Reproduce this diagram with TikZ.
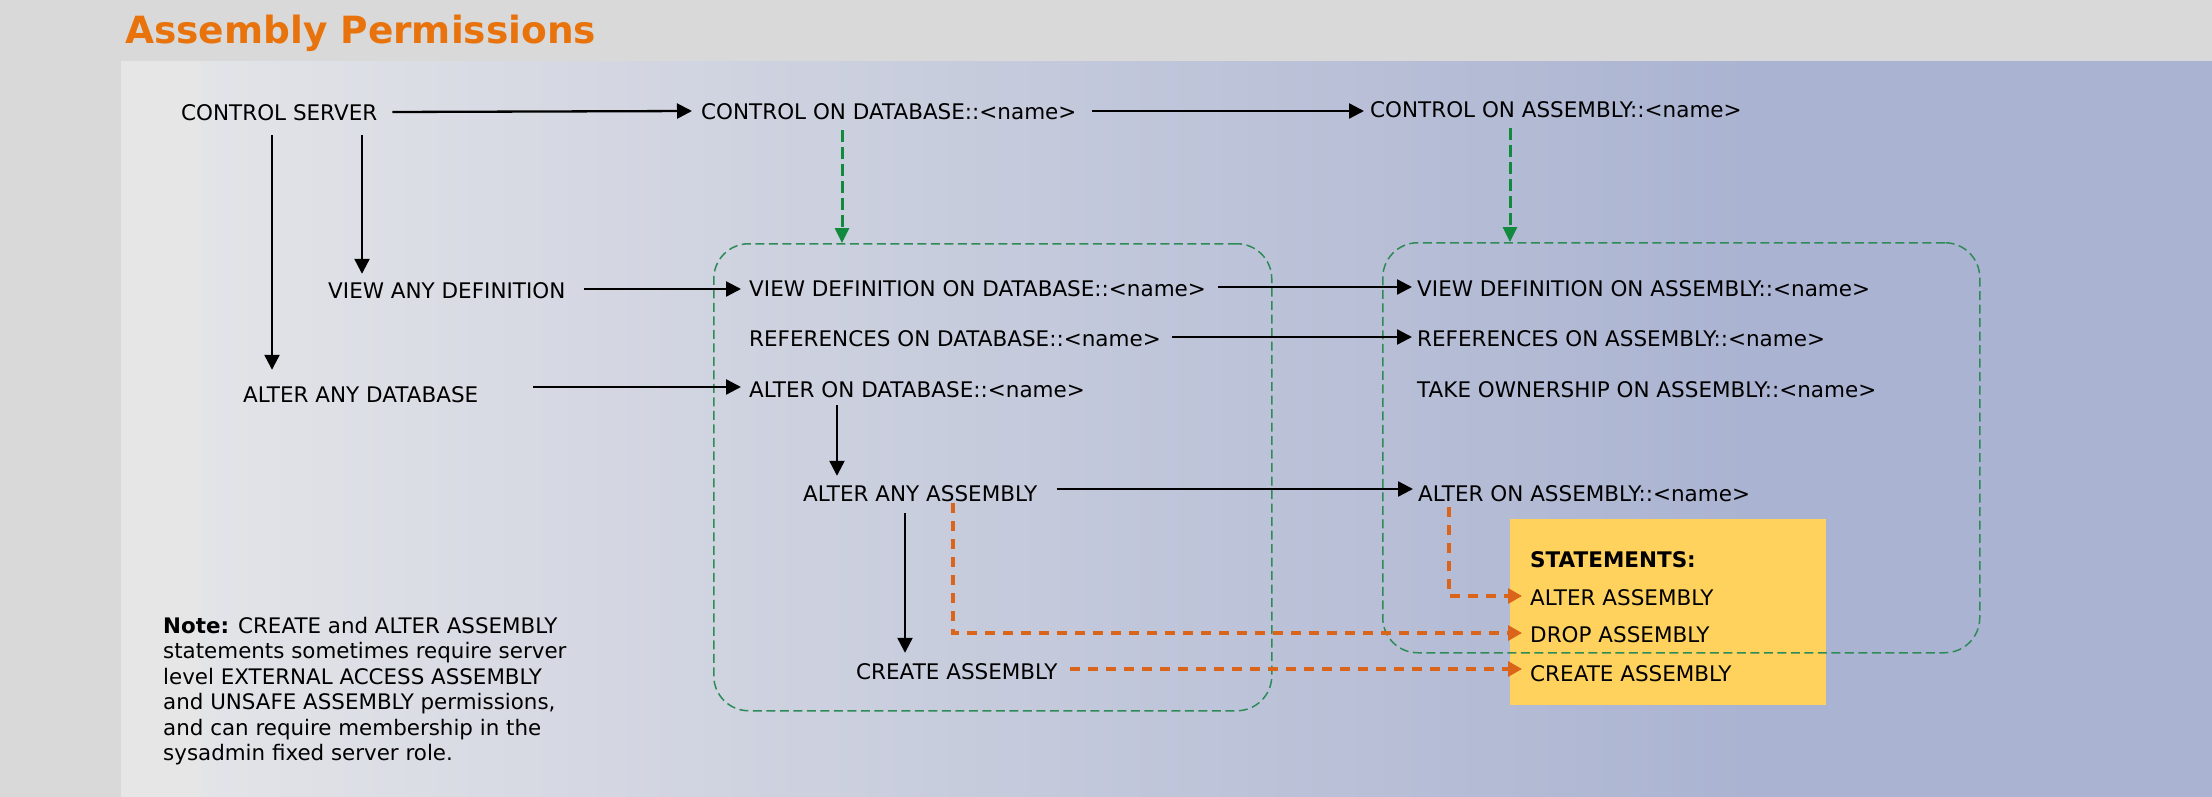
\documentclass[tikz,border=0pt]{standalone}
\usepackage{fontspec}
\setmainfont{DejaVu Sans}
\usetikzlibrary{arrows.meta,calc}

\definecolor{outergray}{HTML}{D9D9D9}
\definecolor{panelL}{HTML}{E6E6E6}
\definecolor{panelM}{HTML}{E3E4E8}
\definecolor{panelR}{HTML}{AAB3D1}
\definecolor{titleorange}{HTML}{E8730C}
\definecolor{flowgreen}{HTML}{128A3E}
\definecolor{scopegreen}{HTML}{2E8B57}
\definecolor{stmtorange}{HTML}{D9641A}
\definecolor{stmtyellow}{HTML}{FFD25E}

\begin{document}
\begin{tikzpicture}[x=1pt,y=-1pt,
  perm/.style={anchor=base west, inner sep=0pt, text height=18pt, text depth=0pt,
               font=\fontsize{21.5pt}{25pt}\selectfont},
  grant/.style={draw=black, line width=2.3pt, -{Triangle[length=15pt,width=15pt]}},
  implies/.style={draw=flowgreen, line width=3pt, dash pattern=on 12pt off 5pt,
                  -{Triangle[length=15pt,width=14pt]}},
  scopebox/.style={draw=scopegreen, line width=1.5pt, dash pattern=on 9pt off 4.5pt,
                   rounded corners=35pt, inner sep=0pt, anchor=north west},
  stmt/.style={draw=stmtorange, line width=3.3pt, dash pattern=on 10pt off 8pt,
               -{Triangle[length=14pt,width=15pt]}}
]
\useasboundingbox (0,0) rectangle (2212,797);

% shaded panel, then the page band around it
\fill[panelR] (121,55) rectangle (2212,797);
\shade[left color=panelM, right color=panelR] (200,55) rectangle (1751,797);
\fill[panelL] (121,55) rectangle (201,797);
\fill[outergray] (0,0) rectangle (2212,61);
\fill[outergray] (0,61) rectangle (121,797);

% heading
\node[anchor=base west, inner sep=0pt, text=titleorange,
      font=\fontsize{37.5pt}{40pt}\selectfont\bfseries] (title) at (125,44) {Assembly Permissions};

% statements panel
\node[fill=stmtyellow, minimum width=316pt, minimum height=186pt,
      anchor=north west, inner sep=0pt] (stbox) at (1510,519) {};

% database and assembly scopes
\node[scopebox, minimum width=558pt, minimum height=467pt] (dbscope) at (713,243) {};
\node[scopebox, minimum width=597pt, minimum height=410pt] (asscope) at (1382,242) {};

% permissions
\node[perm] (cs)  at (181,121) {CONTROL SERVER};
\node[perm] (cdb) at (701,120) {CONTROL ON DATABASE::<name>};
\node[perm] (cas) at (1370,118) {CONTROL ON ASSEMBLY::<name>};
\node[perm] (vad) at (328,298) {VIEW ANY DEFINITION};
\node[perm] (aad) at (243,402) {ALTER ANY DATABASE};
\node[perm] (vdd) at (749,296) {VIEW DEFINITION ON DATABASE::<name>};
\node[perm] (rdb) at (749,346) {REFERENCES ON DATABASE::<name>};
\node[perm] (adb) at (749,397) {ALTER ON DATABASE::<name>};
\node[perm] (aas) at (803,501) {ALTER ANY ASSEMBLY};
\node[perm] (crs) at (856,679) {CREATE ASSEMBLY};
\node[perm] (vda) at (1417,296) {VIEW DEFINITION ON ASSEMBLY::<name>};
\node[perm] (ras) at (1417,346) {REFERENCES ON ASSEMBLY::<name>};
\node[perm] (tas) at (1417,397) {TAKE OWNERSHIP ON ASSEMBLY::<name>};
\node[perm] (aoa) at (1418,501) {ALTER ON ASSEMBLY::<name>};

% statements
\node[perm, font=\fontsize{21.5pt}{25pt}\selectfont\bfseries] (sthead) at (1530,567) {STATEMENTS:};
\node[perm] (alter)  at (1530,605) {ALTER ASSEMBLY};
\node[perm] (drop)   at (1530,642) {DROP ASSEMBLY};
\node[perm] (create) at (1530,681) {CREATE ASSEMBLY};

% note
\node[anchor=north west, inner sep=0pt, align=left,
      font=\fontsize{21.4pt}{25.5pt}\selectfont] (note) at (163,617)
  {\textbf{Note:} CREATE and ALTER ASSEMBLY\\
   statements sometimes require server\\
   level EXTERNAL ACCESS ASSEMBLY\\
   and UNSAFE ASSEMBLY permissions,\\
   and can require membership in the\\
   sysadmin fixed server role.};

% columns of the vertical connectors
\coordinate (colA) at (272,0);
\coordinate (colB) at (362,0);
\coordinate (colC) at (837,0);
\coordinate (colD) at (905,0);
\coordinate (colE) at (842,0);
\coordinate (colF) at (1510,0);
\coordinate (colG) at (953,0);
\coordinate (colH) at (1449,0);

% covering permissions
\draw[grant] ($(cs.east)+(15,0)$) -- ($(cdb.west)+(-9,0)$);
\draw[grant] ($(cdb.east)+(15,0)$) -- ($(cdb.east -| cas.west)+(-6,0)$);
\draw[grant] ($(colA |- cs.south)+(0,14)$) -- ($(colA |- aad.north)+(0,-14)$);
\draw[grant] ($(colB |- cs.south)+(0,14)$) -- ($(colB |- vad.north)+(0,-6)$);
\draw[grant] ($(vad.east)+(18,0)$) -- ($(vad.east -| vdd.west)+(-8,0)$);
\draw[grant] ($(aad.east |- adb.west)+(55,-1)$) -- ($(adb.west)+(-8,-1)$);
\draw[grant] ($(vdd.east)+(12,0)$) -- ($(vda.west)+(-5,0)$);
\draw[grant] ($(rdb.east)+(11,0)$) -- ($(ras.west)+(-5,0)$);
\draw[grant] ($(colC |- adb.south)+(0,8)$) -- ($(colC |- aas.north)+(0,-7)$);
\draw[grant] ($(aas.east)+(19,-3)$) -- ($(aoa.west)+(-5,-3)$);
\draw[grant] ($(colD |- aas.south)+(0,12)$) -- ($(colD |- crs.north)+(0,-8)$);

% implied scopes
\draw[implies] ($(colE |- cdb.south)+(0,10)$) -- (colE |- dbscope.north);
\draw[implies] ($(colF |- cas.south)+(0,10)$) -- (colF |- asscope.north);

% statements allowed
\draw[stmt] ($(colH |- aoa.south)+(0,6)$) |- ($(alter.west)+(-8,0)$);
\draw[stmt] ($(colG |- aas.south)+(0,2)$) |- ($(drop.west)+(-8,0)$);
\draw[stmt] ($(crs.east)+(12,-1)$) -- ($(crs.east -| create.west)+(-8,-1)$);
\end{tikzpicture}
\end{document}
